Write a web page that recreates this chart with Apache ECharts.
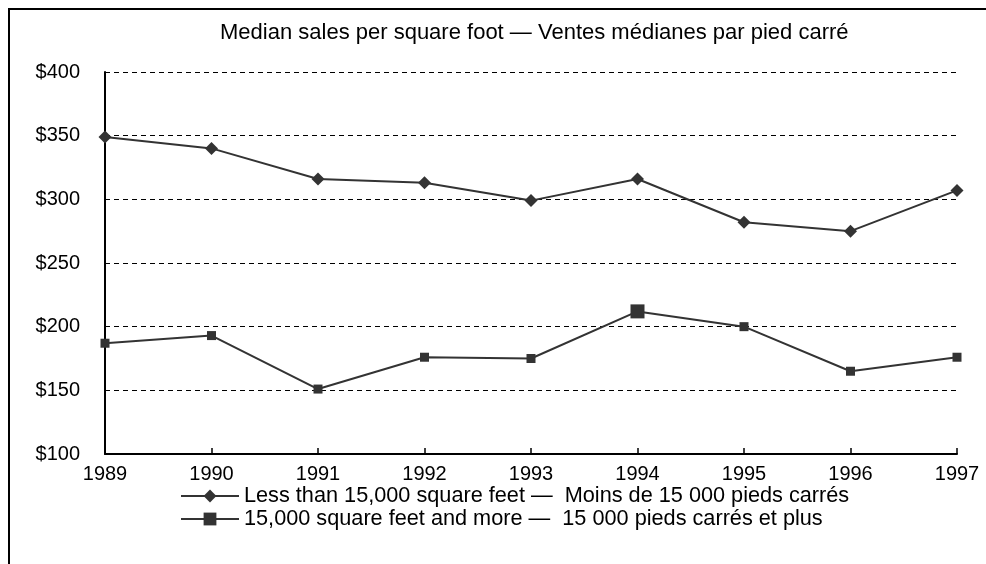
<!DOCTYPE html>
<html>
<head>
<meta charset="utf-8">
<script src="https://cdn.jsdelivr.net/npm/echarts@6/dist/echarts.min.js"></script>
<style>
	html, body { margin: 0; padding: 0; background: #fff; }
	#myChart { width: 986px; height: 564px; }
</style>
</head>
<body>
<div id="myChart"></div>
<script>
	// data
	var years = ['1989', '1990', '1991', '1992', '1993', '1994', '1995', '1996', '1997'];
	var smallStores = [349, 340, 316, 313, 299, 316, 282, 275, 307];
	var largeStores = [187, 193, 151, 176, 175, 212, 200, 165, 176];
	var smallName = 'Less than 15,000 square feet —  Moins de 15 000 pieds carrés';
	var largeName = '15,000 square feet and more —  15 000 pieds carrés et plus';
	var titleText = 'Median sales per square foot — Ventes médianes par pied carré';

	var font = '"Liberation Sans", Arial, sans-serif';

	let myChart = echarts.init(document.getElementById('myChart'));
	myChart.setOption({
		animation: false,
		backgroundColor: '#fff',
		textStyle: { fontFamily: font },
		graphic: [{
			type: 'rect',
			shape: { x: 9, y: 9, width: 1000, height: 600 },
			style: { fill: 'none', stroke: '#000', lineWidth: 2 },
			silent: true
		}],
		title: {
			text: titleText,
			left: 215,
			top: 17,
			textStyle: { fontFamily: font, fontSize: 22, fontWeight: 'normal', color: '#000' }
		},
		legend: {
			orient: 'vertical',
			left: 175,
			top: 480,
			itemWidth: 58,
			itemHeight: 16,
			itemGap: 1,
			textStyle: { fontFamily: font, fontSize: 21.7, color: '#000' },
			data: [smallName, largeName]
		},
		grid: {
			left: 105,
			right: 29,
			top: 72,
			bottom: 110,
			containLabel: false
		},
		xAxis: {
			type: 'category',
			boundaryGap: false,
			data: years,
			axisLine: { lineStyle: { color: '#000', width: 2 } },
			axisTick: { inside: true, length: 6, lineStyle: { color: '#000', width: 1.5 } },
			axisLabel: { color: '#000', fontSize: 20, margin: 10, fontFamily: font },
			splitLine: { show: false }
		},
		yAxis: {
			type: 'value',
			min: 100,
			max: 400,
			interval: 50,
			axisLine: { show: true, lineStyle: { color: '#000', width: 2 } },
			axisTick: { show: false },
			axisLabel: {
				color: '#000', fontSize: 20, margin: 25, fontFamily: font,
				formatter: function(v) { return '$' + v; }
			},
			splitLine: { lineStyle: { color: '#000', type: [5, 4], width: 1 } }
		},
		series: [{
			name: smallName,
			type: 'line',
			data: smallStores,
			symbol: 'diamond',
			symbolSize: 13,
			showAllSymbol: true,
			itemStyle: { color: '#333' },
			lineStyle: { color: '#333', width: 2 }
		}, {
			name: largeName,
			type: 'line',
			data: largeStores.map(function(v, i) {
				return i === 5 ? { value: v, symbolSize: 14 } : v;
			}),
			symbol: 'rect',
			symbolSize: 9,
			showAllSymbol: true,
			itemStyle: { color: '#333' },
			lineStyle: { color: '#333', width: 2 }
		}]
	});
</script>
</body>
</html>
